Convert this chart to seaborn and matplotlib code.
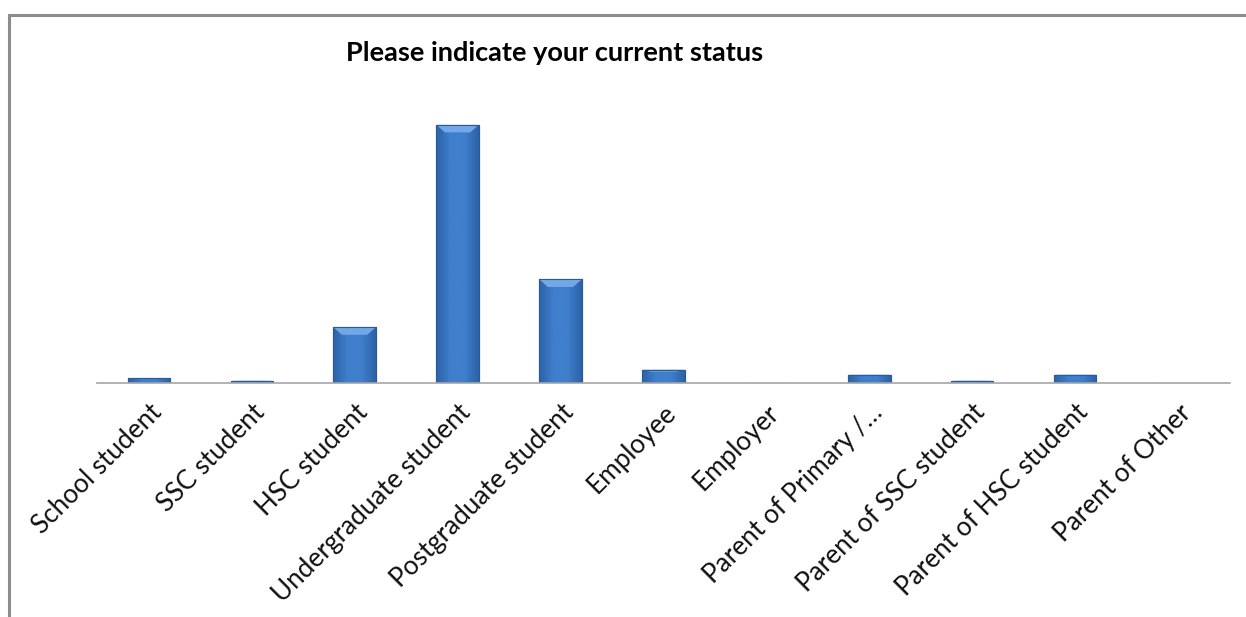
import numpy as np
import pandas as pd
import matplotlib
matplotlib.use("Agg")
import matplotlib.pyplot as plt
import matplotlib.patches as mpatches
from matplotlib.colors import LinearSegmentedColormap
import seaborn as sns

# Data (approximate counts)
categories = ["School student", "SSC student", "HSC student", "Undergraduate student",
              "Postgraduate student", "Employee", "Employer", "Parent of Primary /…",
              "Parent of SSC student", "Parent of HSC student", "Parent of Other"]
counts = [2, 1, 22.4, 103.6, 41.6, 5.4, 0, 3.4, 1, 3.4, 0]

df = pd.DataFrame({"status": categories, "count": counts})

sns.set_theme(style="white")
plt.rcParams["font.family"] = ["Lato", "DejaVu Sans"]

fig = plt.figure(figsize=(12.46, 6.17), dpi=100)
ax = fig.add_axes([0.078, 0.379, 0.909, 0.459])

sns.barplot(data=df, x="status", y="count", color="#3d7cc9", width=0.41,
            edgecolor="#2b5a99", linewidth=0.8, ax=ax)

# gradient fill on each bar (darker at the sides, light bevel at the top)
grad = LinearSegmentedColormap.from_list("bar", ["#2d62a8", "#3f7fcc", "#3f7fcc", "#2d62a8"])
gx = np.linspace(0, 1, 64).reshape(1, -1)
for p in ax.patches:
    x0, y0 = p.get_x(), p.get_y()
    w, h = p.get_width(), p.get_height()
    if h <= 0:
        continue
    im = ax.imshow(gx, cmap=grad, aspect="auto", extent=[x0, x0 + w, y0, y0 + h],
                   zorder=p.get_zorder() + 0.1)
    im.set_clip_path(p)
    # top highlight
    bev = min(h * 0.15, 3.0)
    ax.add_patch(mpatches.Polygon([[x0, y0 + h], [x0 + w, y0 + h],
                                   [x0 + w * 0.8, y0 + h - bev], [x0 + w * 0.2, y0 + h - bev]],
                                  closed=True, facecolor="#73a8e8", edgecolor="none",
                                  zorder=p.get_zorder() + 0.2))
    ax.add_patch(mpatches.Rectangle((x0, y0), w, h, facecolor="none",
                                    edgecolor="#2b5a99", linewidth=0.8,
                                    zorder=p.get_zorder() + 0.3))

ax.set_xlim(-0.5, len(categories) - 0.5)
ax.set_ylim(0, 113.6)
ax.set_xlabel("")
ax.set_ylabel("")
ax.set_yticks([])
ax.tick_params(axis="x", length=0, pad=12)
ax.set_xticks(range(len(categories)))
ax.set_xticklabels(categories, rotation=45, ha="right", rotation_mode="anchor",
                   fontsize=18.8, color="#111111")
for s in ["top", "right", "left"]:
    ax.spines[s].set_visible(False)
ax.spines["bottom"].set_color("#a6a6a6")
ax.spines["bottom"].set_linewidth(1.2)

fig.text(0.445, 0.914, "Please indicate your current status", ha="center", va="center",
         fontsize=19.5, fontweight="bold", color="#000000")

# chart area border (only top and left edges show in the crop)
fig.add_artist(mpatches.Rectangle((9 / 1246, -0.5), 2.0, 1.5 - 15 / 617,
                                  transform=fig.transFigure, facecolor="none",
                                  edgecolor="#8c8c8c", linewidth=2.2, clip_on=False))

fig.savefig("out.png", dpi=100)
